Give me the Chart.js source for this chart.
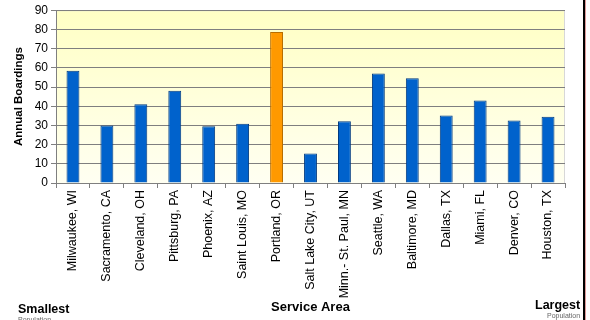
<!DOCTYPE html>
<html>
<head>
<meta charset="utf-8">
<script src="https://cdn.jsdelivr.net/npm/chart.js@4"></script>
<style>
  body { margin: 0; background: #fff; }
  #wrap { position: relative; width: 590px; height: 320px; overflow: hidden; font-family: Arial, "Liberation Sans", sans-serif; }
  #grafico { position: absolute; left: 0; top: 0; }
  .nota { position: absolute; font-weight: bold; font-size: 12.5px; color: #000; }
  .sub { position: absolute; font-size: 7px; color: #666; }
  #borde { position: absolute; left: 583px; top: 0; width: 2px; height: 320px; background: #000; border-right: 1px solid #d99; }
</style>
</head>
<body>
<div id="wrap">
  <canvas id="grafico" width="590" height="320"></canvas>
  <div class="nota" style="left:18px; top:302px;">Smallest</div>
  <div class="sub" style="left:18px; top:316px;">Population</div>
  <div class="nota" style="left:535px; top:298px;">Largest</div>
  <div class="sub" style="left:547px; top:312px;">Population</div>
  <div id="borde"></div>
</div>
<script>
// Datos del gráfico
const ciudades = ['Milwaukee, WI', 'Sacramento, CA', 'Cleveland, OH', 'Pittsburg, PA', 'Phoenix, AZ',
  'Saint Louis, MO', 'Portland, OR', 'Salt Lake City, UT', 'Minn.- St. Paul, MN', 'Seattle, WA',
  'Baltimore, MD', 'Dallas, TX', 'Miami, FL', 'Denver, CO', 'Houston, TX'];
const abordajes = [58.4, 30, 41, 48, 29.5, 30.8, 78.6, 15.3, 32.2, 57, 54.5, 35.2, 43, 32.5, 34.5];
const ciudadDestacada = 'Portland, OR';
const ticksY = [0, 10, 20, 30, 40, 50, 60, 70, 80, 90];

const colores = ciudades.map(c => c === ciudadDestacada ? '#ff9900' : '#0062cc');
const bordes = ciudades.map(c => c === ciudadDestacada ? '#b86e00' : '#003a80');

// Fondo degradado del área del gráfico
const fondoPlugin = {
  id: 'fondo',
  beforeDraw(chart) {
    const { ctx, chartArea: a } = chart;
    const g = ctx.createLinearGradient(0, a.top, 0, a.bottom);
    g.addColorStop(0, '#ffffc4');
    g.addColorStop(1, '#fffff2');
    ctx.save();
    ctx.fillStyle = g;
    ctx.fillRect(a.left, a.top, a.right - a.left, a.bottom - a.top);
    ctx.strokeStyle = '#d8d8d8';
    ctx.lineWidth = 1;
    ctx.beginPath();
    ctx.moveTo(a.left, a.top + 0.5);
    ctx.lineTo(a.right - 0.5, a.top + 0.5);
    ctx.lineTo(a.right - 0.5, a.bottom);
    ctx.stroke();
    ctx.restore();
  }
};

const fuente = { family: 'Arial, "Liberation Sans", sans-serif', size: 12 };

new Chart(document.getElementById('grafico'), {
  type: 'bar',
  data: {
    labels: ciudades,
    datasets: [{
      data: abordajes,
      backgroundColor: colores,
      borderColor: bordes,
      borderWidth: 1,
      categoryPercentage: 1,
      barPercentage: 0.38
    }]
  },
  options: {
    responsive: false,
    animation: false,
    layout: { padding: { top: 9, right: 25, left: 12, bottom: 0 } },
    plugins: { legend: { display: false }, tooltip: { enabled: false } },
    scales: {
      y: {
        min: 0,
        max: 90,
        afterBuildTicks(scale) { scale.ticks = ticksY.map(v => ({ value: v })); },
        afterFit(scale) { scale.width = 44; },
        ticks: { font: fuente, color: '#000', padding: 3 },
        grid: { color: '#7f7f7f', tickLength: 5, tickColor: '#7f7f7f' },
        border: { color: '#7f7f7f' },
        title: { display: true, text: 'Annual Boardings', font: { ...fuente, size: 11.5, weight: 'bold' }, color: '#000', padding: 0 }
      },
      x: {
        afterFit(scale) { scale.height = 137; },
        ticks: { font: { ...fuente, size: 12.5 }, color: '#000', minRotation: 90, maxRotation: 90, autoSkip: false, padding: 2 },
        grid: { offset: true, drawOnChartArea: false, tickLength: 5, color: '#7f7f7f' },
        border: { color: '#7f7f7f' },
        title: { display: true, text: 'Service Area', font: { ...fuente, size: 13, weight: 'bold' }, color: '#000', padding: { top: 0, bottom: 5 } }
      }
    }
  },
  plugins: [fondoPlugin]
});
</script>
</body>
</html>
